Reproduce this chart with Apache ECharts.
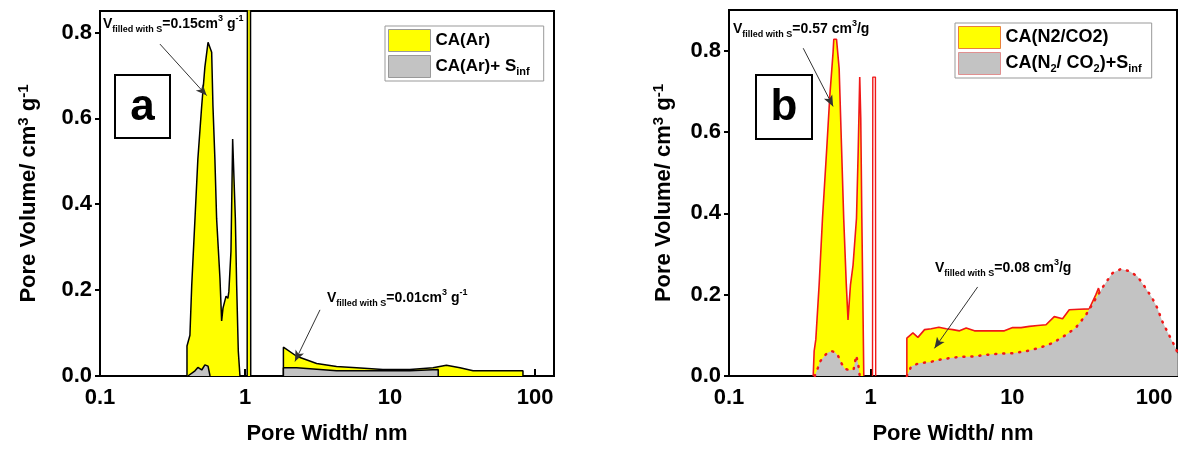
<!DOCTYPE html>
<html><head><meta charset="utf-8">
<script src="https://cdn.jsdelivr.net/npm/echarts@6/dist/echarts.min.js"></script>
<style>html,body{margin:0;padding:0;background:#fff}#c{width:1180px;height:450px}</style>
</head><body><div id="c"></div>
<script>
// ---------- tick labels ----------
const xTickValues = [0.1, 1, 10, 100];
const xTickLabels = ['0.1', '1', '10', '100'];
const yTickValues = [0, 0.2, 0.4, 0.6, 0.8];

// ---------- panel a : CA(Ar) ----------
const caArX = [0.398, 0.398, 0.417, 0.429, 0.452, 0.473, 0.503, 0.529, 0.556, 0.589, 0.601, 0.620, 0.637, 0.672, 0.690, 0.705, 0.740, 0.762, 0.774, 0.800, 0.813, 0.822, 0.837, 0.858, 0.876, 0.899, 0.923, 1.035, 1.04, 1.09, 1.095, 1.4, 1.84, 1.84, 2.27, 3.12, 4.28, 5.88, 8.93, 13.7, 19.8, 22.0, 24.5, 30.4, 37.4, 82.6, 82.6];
const caArY = [0, 0.07, 0.095, 0.21, 0.367, 0.505, 0.63, 0.72, 0.777, 0.754, 0.63, 0.505, 0.367, 0.227, 0.128, 0.158, 0.186, 0.181, 0.197, 0.29, 0.443, 0.552, 0.548, 0.367, 0.211, 0.058, 0, 0, 1.2, 1.2, 0, '-', 0, 0.067, 0.046, 0.029, 0.022, 0.019, 0.015, 0.015, 0.019, 0.022, 0.025, 0.019, 0.012, 0.012, 0];

// panel a : CA(Ar)+ S_inf
const caArSX = [0.404, 0.452, 0.473, 0.503, 0.529, 0.556, 0.574, 1.0, 1.84, 1.84, 2.27, 3.12, 4.28, 8.93, 13.7, 21.5, 21.5];
const caArSY = [0, 0.012, 0.02, 0.014, 0.026, 0.023, 0, '-', 0, 0.019, 0.019, 0.016, 0.012, 0.012, 0.012, 0.015, 0];

// ---------- panel b : CA(N2/CO2) ----------
const caNX = [0.393, 0.399, 0.41, 0.4326, 0.457, 0.488, 0.515, 0.543, 0.549, 0.574, 0.599, 0.622, 0.645, 0.673, 0.692, 0.72, 0.751, 0.794, 0.816, 0.837, 0.851, 0.866, 0.884, 0.894, 1.3, 1.80, 1.80, 1.986, 2.154, 2.401, 2.676, 3.027, 3.413, 3.798, 4.236, 4.72, 5.40, 6.178, 7.27, 8.78, 10.05, 11.52, 13.18, 15.08, 17.28, 19.76, 22.61, 25.2, 29.64, 34.86, 38.86, 40.54, 41.47, 41.6];
const caNY = [0, 0.061, 0.09, 0.224, 0.388, 0.551, 0.69, 0.797, 0.828, 0.828, 0.756, 0.568, 0.388, 0.224, 0.138, 0.224, 0.273, 0.388, 0.551, 0.735, 0.633, 0.388, 0.142, 0, '-', 0, 0.093, 0.106, 0.095, 0.114, 0.116, 0.12, 0.116, 0.114, 0.111, 0.118, 0.111, 0.111, 0.111, 0.111, 0.119, 0.119, 0.122, 0.124, 0.126, 0.146, 0.141, 0.163, 0.164, 0.165, 0.2, 0.216, 0.204, 0];

// panel b : isolated spike near 1 nm
const spikeX = [1.03, 1.035, 1.08, 1.085];
const spikeY = [0, 0.735, 0.735, 0];

// panel b : CA(N2/ CO2)+S_inf
const caNSX = [0.403, 0.424, 0.438, 0.473, 0.50, 0.531, 0.557, 0.588, 0.62, 0.656, 0.71, 0.758, 0.79, 0.816, 0.837, 1.3, 1.80, 1.80, 1.935, 2.213, 2.604, 3.062, 3.599, 4.236, 5.254, 6.53, 8.10, 10.05, 12.49, 15.5, 19.22, 23.89, 28.09, 33.04, 38.86, 44.45, 50.85, 58.29, 66.67, 76.28, 87.41, 97.27, 105.5, 114.4, 127.5, 142.2, 147];
const caNSY = [0, 0.02, 0.035, 0.05, 0.058, 0.061, 0.059, 0.05, 0.032, 0.018, 0.014, 0.016, 0.05, 0.03, 0, '-', 0, 0.003, 0.024, 0.032, 0.034, 0.04, 0.044, 0.047, 0.048, 0.052, 0.055, 0.056, 0.061, 0.069, 0.081, 0.101, 0.119, 0.15, 0.191, 0.224, 0.253, 0.263, 0.258, 0.245, 0.216, 0.191, 0.167, 0.134, 0.101, 0.069, 0.055];

const zip = (xs, ys) => xs.map((x, i) => [x, ys[i]]);
const FONT = "'Liberation Sans', Arial, sans-serif";
const YEL = '#ffff00', GRY = '#c3c3c3', RED = '#f01818';

const xFmt = v => {
  const e = Math.log10(v);
  if (Math.abs(e - Math.round(e)) > 1e-6) return '';
  const i = xTickValues.findIndex(t => Math.abs(Math.log10(t) - e) < 1e-6);
  return i >= 0 ? xTickLabels[i] : '';
};

const nameRich = {
  m: {fontSize: 22, fontWeight: 'bold', fontFamily: FONT, color: '#000', lineHeight: 26},
  p: {fontSize: 15, fontWeight: 'bold', fontFamily: FONT, color: '#000', lineHeight: 16, verticalAlign: 'top'}
};

function xAxis(gi, max) {
  return {
    type: 'log', logBase: 10, gridIndex: gi, min: 0.1, max: max,
    axisLine: {show: true, lineStyle: {color: '#000', width: 2}},
    axisTick: {show: true, inside: true, length: 7, lineStyle: {color: '#000', width: 2}},
    minorTick: {show: false},
    splitLine: {show: false},
    axisLabel: {formatter: xFmt, fontSize: 22, fontWeight: 'bold', fontFamily: FONT, color: '#000', margin: 11},
    name: 'Pore Width/ nm', nameLocation: 'middle', nameGap: 47,
    nameTextStyle: {fontSize: 22, fontWeight: 'bold', fontFamily: FONT, color: '#000'}
  };
}
function yAxis(gi, max, gap) {
  return {
    type: 'value', gridIndex: gi, min: 0, max: max, interval: 0.2,
    axisLine: {show: true, lineStyle: {color: '#000', width: 2}},
    axisTick: {show: true, inside: false, length: 5, lineStyle: {color: '#000', width: 2}, customValues: yTickValues},
    splitLine: {show: false},
    axisLabel: {formatter: v => v.toFixed(1), customValues: yTickValues,
      fontSize: 22, fontWeight: 'bold', fontFamily: FONT, color: '#000', margin: 8},
    name: '{m|Pore Volume/ cm}{p|3}{m| g}{p|-1}', nameLocation: 'middle', nameGap: gap, nameRotate: 90,
    nameTextStyle: {rich: nameRich}
  };
}

function legRich(fs) {
  return {
    m: {fontSize: fs, fontWeight: 'bold', fontFamily: FONT, color: '#000', lineHeight: 22},
    sub: {fontSize: 11, fontWeight: 'bold', fontFamily: FONT, color: '#000', lineHeight: 13, verticalAlign: 'bottom'}
  };
}
const legNames = {
  'CA(Ar)': '{m|CA(Ar)}',
  'CA(Ar)+ Sinf': '{m|CA(Ar)+ S}{sub|inf}',
  'CA(N2/CO2)': '{m|CA(N2/CO2)}',
  'CA(N2/ CO2)+Sinf': '{m|CA(N}{sub|2}{m|/ CO}{sub|2}{m|)+S}{sub|inf}'
};
function legend(left, top, items, fs, padR) {
  return {
    left: left, top: top, orient: 'vertical', icon: 'rect', itemWidth: 42, itemHeight: 22, itemGap: 3,
    padding: [3, padR, 3, 3], borderColor: '#999', borderWidth: 1, backgroundColor: '#fff',
    selectedMode: false, data: items,
    formatter: n => legNames[n] || n,
    textStyle: {rich: legRich(fs)}
  };
}

const annRich = {
  v: {fontSize: 14, fontWeight: 'bold', fontFamily: FONT, fill: '#000', lineHeight: 20},
  s: {fontSize: 9, fontWeight: 'bold', fontFamily: FONT, fill: '#000', lineHeight: 11, verticalAlign: 'bottom'},
  p: {fontSize: 9, fontWeight: 'bold', fontFamily: FONT, fill: '#000', lineHeight: 11, verticalAlign: 'top'}
};
function ann(x, y, text) {
  return {type: 'text', x: x, y: y, silent: true, z: 100,
    style: {text: text, rich: annRich, align: 'left', verticalAlign: 'middle', fill: '#000'}};
}
function boxLabel(x, y, w, h, t) {
  return [
    {type: 'rect', shape: {x: x, y: y, width: w, height: h}, style: {fill: '#fff', stroke: '#000', lineWidth: 2}, z: 100, silent: true},
    {type: 'text', x: x + w / 2, y: y + h / 2 + 1, z: 101, silent: true,
      style: {text: t, font: 'bold 44px ' + FONT, fill: '#000', align: 'center', verticalAlign: 'middle'}}
  ];
}
const arrowML = (pairs) => ({
  silent: true, symbol: ['none', 'arrow'], symbolSize: [7, 11], animation: false,
  lineStyle: {color: '#333', width: 1, type: 'solid'}, label: {show: false},
  data: pairs.map(p => [{coord: p[0]}, {coord: p[1]}])
});

const option = {
  animation: false,
  backgroundColor: '#fff',
  grid: [
    {left: 100, top: 11, width: 454, height: 367, show: true, borderColor: '#000', borderWidth: 2, backgroundColor: 'transparent'},
    {left: 729, top: 10, width: 449, height: 368, show: true, borderColor: '#000', borderWidth: 2, backgroundColor: 'transparent'}
  ],
  xAxis: [xAxis(0, 135.2), xAxis(1, 145.2)],
  yAxis: [yAxis(0, 0.85, 58), yAxis(1, 0.9, 52)],
  legend: [
    legend(385, 26, [
      {name: 'CA(Ar)', itemStyle: {color: YEL, borderColor: '#999', borderWidth: 1}},
      {name: 'CA(Ar)+ Sinf', itemStyle: {color: GRY, borderColor: '#999', borderWidth: 1}}
    ], 17, 14),
    legend(955, 23, [
      {name: 'CA(N2/CO2)', itemStyle: {color: YEL, borderColor: '#e8803a', borderWidth: 1}},
      {name: 'CA(N2/ CO2)+Sinf', itemStyle: {color: GRY, borderColor: '#e09090', borderWidth: 1}}
    ], 18, 10)
  ],
  series: [
    {name: 'CA(Ar)', type: 'line', xAxisIndex: 0, yAxisIndex: 0, data: zip(caArX, caArY),
      showSymbol: false, symbol: 'none', connectNulls: false, z: 2,
      itemStyle: {color: YEL}, lineStyle: {color: '#000', width: 1.5}, areaStyle: {color: YEL, opacity: 1}},
    {name: 'CA(Ar)+ Sinf', type: 'line', xAxisIndex: 0, yAxisIndex: 0, data: zip(caArSX, caArSY),
      showSymbol: false, symbol: 'none', connectNulls: false, z: 3,
      itemStyle: {color: GRY}, lineStyle: {color: '#000', width: 1.5}, areaStyle: {color: GRY, opacity: 1},
      markLine: arrowML([[[0.259, 0.773], [0.544, 0.653]], [[3.29, 0.154], [2.21, 0.034]]])},
    {name: 'CA(N2/CO2)', type: 'line', xAxisIndex: 1, yAxisIndex: 1, data: zip(caNX, caNY),
      showSymbol: false, symbol: 'none', connectNulls: false, z: 2,
      itemStyle: {color: YEL}, lineStyle: {color: RED, width: 1.6}, areaStyle: {color: YEL, opacity: 1}},
    {name: 'spike', type: 'line', xAxisIndex: 1, yAxisIndex: 1, data: zip(spikeX, spikeY),
      showSymbol: false, symbol: 'none', z: 2, itemStyle: {color: RED}, lineStyle: {color: RED, width: 1.4}},
    {name: 'CA(N2/ CO2)+Sinf', type: 'line', xAxisIndex: 1, yAxisIndex: 1, data: zip(caNSX, caNSY),
      showSymbol: false, symbol: 'none', connectNulls: false, z: 3,
      itemStyle: {color: GRY}, lineStyle: {color: RED, width: 2.5, type: [1, 7], cap: 'round'}, areaStyle: {color: GRY, opacity: 1},
      markLine: arrowML([[[0.334, 0.806], [0.543, 0.663]], [[5.69, 0.219], [2.82, 0.068]]])}
  ],
  graphic: [
    ...boxLabel(115, 75, 55, 63, 'a'),
    ...boxLabel(756, 75, 56, 64, 'b'),
    ann(103, 24, '{v|V}{s|filled with S}{v|=0.15cm}{p|3}{v| g}{p|-1}'),
    ann(327, 298, '{v|V}{s|filled with S}{v|=0.01cm}{p|3}{v| g}{p|-1}'),
    ann(733, 29, '{v|V}{s|filled with S}{v|=0.57 cm}{p|3}{v|/g}'),
    ann(935, 268, '{v|V}{s|filled with S}{v|=0.08 cm}{p|3}{v|/g}')
  ]
};
const chart = echarts.init(document.getElementById('c'), null, {renderer: 'canvas'});
chart.setOption(option);
</script></body></html>
